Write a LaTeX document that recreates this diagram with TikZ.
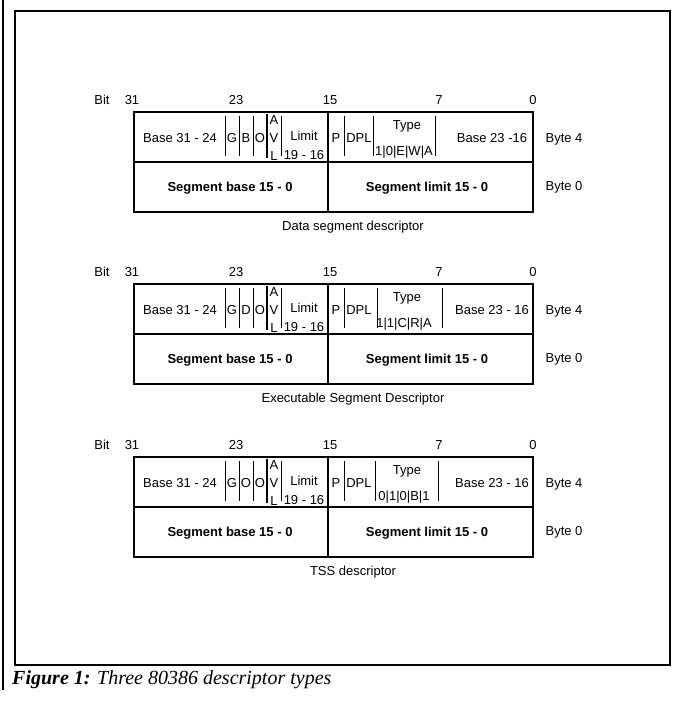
\documentclass[tikz,border=0pt]{standalone}
\usepackage{fontspec}
\setmainfont{Liberation Sans}
\newfontfamily\capfont{Liberation Serif}
\newcommand\descr[9]{%
\begin{scope}[shift={(0,#2)}]
 \node[txt] (#1bit) at (102,-12) {Bit};
 \node[txt] (#1b31) at (132,-12) {31};
 \node[txt] (#1b23) at (236,-12) {23};
 \node[txt] (#1b15) at (330,-12) {15};
 \node[txt] (#1b7) at (439,-12) {7};
 \node[txt] (#1b0) at (533,-12) {0};
 \draw[boxline] (134,0) rectangle (533,100);
 \draw[boxline] (134,50) -- (533,50);
 \draw[boxline] (328,0) -- (328,100);
 \foreach \x in {225,239,253,281,344,#5,#6} \draw[divline] (\x,4) -- (\x,44);
 \draw[line width=1.6pt] (267,2) -- (267,46);
 \node[txt] (#1base) at (180,26) {Base 31 - 24};
 \node[txt] (#1g) at (232,26) {G};
 \node[txt] (#1f2) at (246,26) {#3};
 \node[txt] (#1f3) at (260,26) {#4};
 \node[txt] (#1a) at (274,8) {A};
 \node[txt] (#1v) at (274,26) {V};
 \node[txt] (#1l) at (274,44) {L};
 \node[txt] (#1lim) at (304,24) {Limit};
 \node[txt] (#1lim2) at (304,43) {19 - 16};
 \node[txt] (#1p) at (336,26) {P};
 \node[txt] (#1dpl) at (359,26) {DPL};
 \node[txt] (#1type) at (407,13) {Type};
 \node[txt] (#1bits) at (404,39) {#7};
 \node[txt] (#1base2) at (492,26) {#8};
 \node[txt] (#1byte4) at (564,26) {Byte 4};
 \node[txt,font=\fontsize{13}{15}\selectfont\bfseries] (#1sb) at (230,75) {Segment base 15 - 0};
 \node[txt,font=\fontsize{13}{15}\selectfont\bfseries] (#1sl) at (427,75) {Segment limit 15 - 0};
 \node[txt] (#1byte0) at (564,74) {Byte 0};
 \node[txt] (#1cap) at (353,114) {#9};
\end{scope}}
\begin{document}
\begin{tikzpicture}[x=1pt,y=-1pt,font=\fontsize{13}{15}\selectfont,
  boxline/.style={line width=1.3pt},
  divline/.style={line width=0.8pt},
  txt/.style={inner sep=0pt,text height=9.3pt,text depth=0pt,anchor=center}]
\useasboundingbox (0,0) rectangle (680,704);
\fill[white] (0,0) rectangle (680,704);
\draw[line width=1.2pt] (3,0) -- (3,690);
\draw[line width=1.5pt] (15,11) rectangle (670,665);
\descr{d}{112}{B}{O}{373}{435}{1|0|E|W|A}{Base 23 -16}{Data segment descriptor}
\descr{e}{284}{D}{O}{377}{442}{1|1|C|R|A}{Base 23 - 16}{Executable Segment Descriptor}
\descr{t}{457}{O}{O}{375}{438}{0|1|0|B|1}{Base 23 - 16}{TSS descriptor}
\node[anchor=base west,inner sep=0pt,font=\capfont\fontsize{20}{24}\selectfont] (figcap) at (12,684) {\textbf{\textit{Figure 1:}} \textit{Three 80386 descriptor types}};
\end{tikzpicture}
\end{document}
